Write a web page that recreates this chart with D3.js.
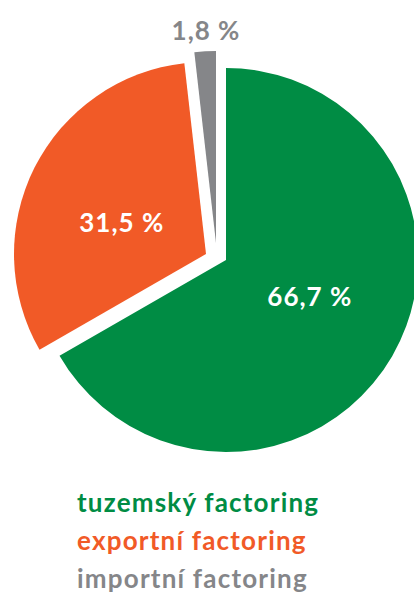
<!DOCTYPE html>
<html>
<head>
<meta charset="utf-8">
<script src="https://cdn.jsdelivr.net/npm/d3@7"></script>
<style>
  body { margin: 0; background: #fff; }
  text { font-family: Lato, "Open Sans", sans-serif; font-weight: 700; }
</style>
</head>
<body>
<div id="chart"></div>
<script>
// data
var categories = ["tuzemský factoring", "exportní factoring", "importní factoring"];
var values = [66.7, 31.5, 1.8];
var valueLabels = ["66,7 %", "31,5 %", "1,8 %"];
var colors = ["#008c44", "#f15a27", "#858689"];

var svgWidth = 414;
var svgHeight = 594;

var svg = d3.select("#chart")
    .append("svg")
    .attr("width", svgWidth)
    .attr("height", svgHeight);

var cx = 226, cy = 260, radius = 192;

// exploded offsets for each slice
var offsets = [[0, 0], [-20, -6], [-10, -17]];
// nudges for the inner labels
var nudges = [[4, -10], [-2, 10]];

var pie = d3.pie().sort(null).value(function(d) { return d; });
var arcs = pie(values);

var arc = d3.arc().innerRadius(0).outerRadius(radius);
var labelArc = d3.arc().innerRadius(0).outerRadius(radius * 0.96);

var slices = svg.selectAll("g.slice")
    .data(arcs)
    .join("g")
    .attr("class", "slice")
    .attr("transform", function(d, i) {
        return "translate(" + (cx + offsets[i][0]) + "," + (cy + offsets[i][1]) + ")";
    });

slices.append("path")
    .attr("d", arc)
    .attr("fill", function(d, i) { return colors[i]; });

// labels inside the big slices
slices.filter(function(d, i) { return i < 2; })
    .append("text")
    .attr("transform", function(d, i) {
        var c = labelArc.centroid(d);
        return "translate(" + (c[0] + nudges[i][0]) + "," + (c[1] + nudges[i][1]) + ")";
    })
    .attr("text-anchor", "middle")
    .attr("dy", "0.36em")
    .attr("fill", "#fff")
    .style("font-size", "26px")
    .style("letter-spacing", "1px")
    .text(function(d, i) { return valueLabels[i]; });

// small slice label above
svg.append("text")
    .attr("x", 206)
    .attr("y", 40)
    .attr("text-anchor", "middle")
    .attr("fill", colors[2])
    .style("font-size", "26px")
    .style("letter-spacing", "1px")
    .text(valueLabels[2]);

// legend
svg.selectAll("text.legend")
    .data(categories)
    .join("text")
    .attr("class", "legend")
    .attr("x", 77)
    .attr("y", function(d, i) { return 512 + i * 38; })
    .attr("fill", function(d, i) { return colors[i]; })
    .style("font-size", "26px")
    .style("letter-spacing", "1.2px")
    .text(function(d) { return d; });
</script>
</body>
</html>
